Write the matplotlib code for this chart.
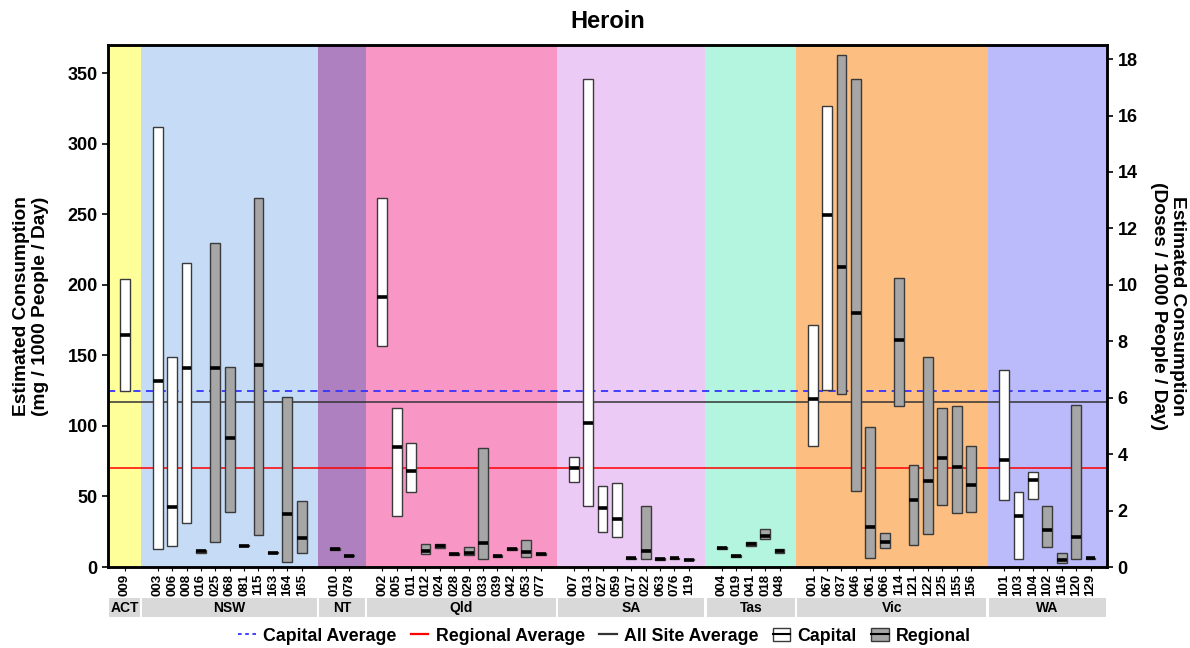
import matplotlib
matplotlib.use("Agg")
import matplotlib.pyplot as plt
import matplotlib.transforms as mtransforms
from matplotlib.patches import Rectangle, Patch
from matplotlib.lines import Line2D
from matplotlib.legend_handler import HandlerTuple

plt.rcParams['font.family'] = ['Liberation Sans', 'DejaVu Sans']
plt.rcParams['font.weight'] = 'bold'

# states, in plot order, with their background colours
states = ['ACT', 'NSW', 'NT', 'Qld', 'SA', 'Tas', 'Vic', 'WA']
state_colors = ['#ffff99', '#c6dcf6', '#ae80bf', '#f897c6',
                '#eccaf6', '#b3f5df', '#fdbe82', '#bbbbfc']

# sites per state
sites = {
    'ACT': ['009'],
    'NSW': ['003', '006', '008', '016', '025', '068', '081', '115', '163', '164', '165'],
    'NT': ['010', '078'],
    'Qld': ['002', '005', '011', '012', '024', '028', '029', '033', '039', '042', '053', '077'],
    'SA': ['007', '013', '027', '059', '017', '022', '063', '076', '119'],
    'Tas': ['004', '019', '041', '018', '048'],
    'Vic': ['001', '067', '037', '046', '061', '066', '114', '121', '122', '125', '155', '156'],
    'WA': ['101', '103', '104', '102', '116', '120', '129'],
}

# C = capital, R = regional
site_type = {
    'ACT': 'C',
    'NSW': 'CCCRRRRRRRR',
    'NT': 'RR',
    'Qld': 'CCCRRRRRRRRR',
    'SA': 'CCCCRRRRR',
    'Tas': 'RRRRR',
    'Vic': 'CCRRRRRRRRRR',
    'WA': 'CCCRRRR',
}

# mg / 1000 people / day
low = {
    'ACT': [124.7],
    'NSW': [12.9, 14.9, 31.3, 10.2, 17.9, 38.9, 14.8, 23.0, 9.8, 3.5, 9.8],
    'NT': [12.1, 7.6],
    'Qld': [156.8, 35.9, 53.0, 9.4, 13.2, 8.8, 8.3, 5.4, 7.4, 12.0, 7.3, 8.2],
    'SA': [60.6, 43.2, 24.7, 21.2, 5.7, 5.4, 5.3, 5.7, 4.8],
    'Tas': [13.1, 7.0, 15.1, 20.1, 9.7],
    'Vic': [86.1, 125.8, 122.5, 53.8, 6.1, 13.6, 114.4, 15.4, 23.7, 43.7, 38.6, 39.1],
    'WA': [47.5, 5.4, 48.2, 14.2, 2.8, 5.9, 5.7],
}
median = {
    'ACT': [164.4],
    'NSW': [131.6, 42.4, 140.7, 11.1, 140.7, 91.2, 15.2, 143.2, 10.2, 37.6, 20.7],
    'NT': [12.8, 8.0],
    'Qld': [191.4, 84.8, 67.9, 11.1, 14.8, 9.2, 10.2, 17.2, 7.8, 12.8, 10.9, 9.0],
    'SA': [70.5, 101.8, 41.9, 34.3, 6.1, 11.6, 5.7, 6.1, 5.2],
    'Tas': [13.5, 7.8, 16.3, 22.0, 11.1],
    'Vic': [119.4, 249.5, 212.9, 180.0, 28.0, 17.7, 160.6, 47.7, 60.9, 77.3, 71.2, 57.8],
    'WA': [75.8, 36.1, 61.7, 26.0, 5.0, 21.5, 6.1],
}
high = {
    'ACT': [204.0],
    'NSW': [312.0, 148.5, 215.4, 12.2, 229.8, 141.7, 15.6, 261.4, 10.6, 120.7, 47.0],
    'NT': [13.6, 8.4],
    'Qld': [261.4, 112.4, 87.9, 16.3, 16.6, 9.6, 14.2, 84.3, 8.2, 13.7, 18.9, 9.8],
    'SA': [77.8, 345.7, 57.1, 59.3, 6.5, 43.2, 6.1, 6.5, 5.6],
    'Tas': [13.9, 8.6, 17.7, 26.9, 13.0],
    'Vic': [171.5, 326.8, 362.6, 346.0, 99.2, 24.2, 204.8, 72.0, 148.5, 112.6, 113.9, 86.1],
    'WA': [139.6, 53.4, 67.1, 43.0, 9.7, 114.6, 6.5],
}

capital_avg = 125
regional_avg = 70
all_avg = 117
mg_per_dose = 20

fig = plt.figure(figsize=(11.9, 6.48), dpi=100)
ax = fig.add_axes([0.0908, 0.125, 0.8395, 0.8056])

pad = 1.15  # space between outer site and panel edge, in site widths
pos = 0.0
tick_pos, tick_lab = [], []
trans = mtransforms.blended_transform_factory(ax.transData, ax.transAxes)
for s, col in zip(states, state_colors):
    xs = []
    for site in sites[s]:
        xs.append(pos)
        pos += 1
    pos += 2 * pad - 1
    left = xs[0] - pad
    right = xs[-1] + pad
    ax.axvspan(left, right, color=col, zorder=0, lw=0)
    # strip below site labels
    ax.add_patch(Rectangle((left + 0.08, -0.0958), right - left - 0.16, 0.0364,
                           transform=trans, clip_on=False, facecolor='#d9d9d9',
                           edgecolor='none'))
    ax.text((left + right) / 2, -0.0776, s, transform=trans, ha='center',
            va='center', fontsize=10, fontweight='bold')
    w = 0.68
    for x, t, lo, me, hi in zip(xs, site_type[s], low[s], median[s], high[s]):
        fc = 'white' if t == 'C' else '#a6a6a6'
        ax.bar(x, hi - lo, bottom=lo, width=w, color=fc, edgecolor='#3a3a3a',
               lw=1, zorder=3)
        ax.hlines(me, x - w / 2, x + w / 2, color='black', lw=2.6, zorder=4)
    tick_pos += xs
    tick_lab += sites[s]

ax.set_xlim(tick_pos[0] - pad, tick_pos[-1] + pad)
ax.set_ylim(0, 370)

ax.axhline(capital_avg, color='#3333ff', lw=1.3, ls=(0, (4, 3)), zorder=2)
ax.axhline(regional_avg, color='#ff0000', lw=1.1, zorder=2)
ax.axhline(all_avg, color='#333333', lw=1.1, zorder=2)

ax.set_xticks(tick_pos)
ax.set_xticklabels(tick_lab, rotation=90, fontsize=9.5, fontweight='bold')
ax.tick_params(axis='x', length=3, pad=2)
ax.set_yticks(range(0, 351, 50))
ax.tick_params(axis='y', labelsize=13, length=4, width=1.2)
for sp in ax.spines.values():
    sp.set_linewidth(1.8)

ax.set_ylabel('Estimated Consumption\n(mg / 1000 People / Day)', fontsize=13.8,
              fontweight='bold')
ax.yaxis.set_label_coords(-0.059, 0.5)

ax2 = ax.twinx()
ax2.set_ylim(0, 370 / mg_per_dose)
ax2.set_yticks(range(0, 19, 2))
ax2.tick_params(axis='y', labelsize=13, length=4, width=1.2)
for sp in ax2.spines.values():
    sp.set_linewidth(1.8)
ax2.set_ylabel('Estimated Consumption\n(Doses / 1000 People / Day)', fontsize=13.8,
               fontweight='bold', rotation=270, va='center')
ax2.yaxis.set_label_coords(1.061, 0.5)

ax.set_title('Heroin', fontsize=17, fontweight='bold', pad=12)

handles = [
    Line2D([], [], color='#3333ff', lw=1.3, ls=(0, (2, 2))),
    Line2D([], [], color='#ff0000', lw=1.6),
    Line2D([], [], color='#333333', lw=1.6),
    (Patch(facecolor='white', edgecolor='#3a3a3a', lw=1),
     Line2D([], [], color='black', lw=1.5)),
    (Patch(facecolor='#a6a6a6', edgecolor='#3a3a3a', lw=1),
     Line2D([], [], color='black', lw=1.5)),
]
labels = ['Capital Average', 'Regional Average', 'All Site Average', 'Capital', 'Regional']
fig.legend(handles, labels, loc='center', bbox_to_anchor=(0.508, 0.0185),
           ncol=5, frameon=False, fontsize=12.8, handlelength=1.0,
           handletextpad=0.4, columnspacing=0.8,
           handler_map={tuple: HandlerTuple(ndivide=1)})

fig.savefig('out.png', dpi=100)
